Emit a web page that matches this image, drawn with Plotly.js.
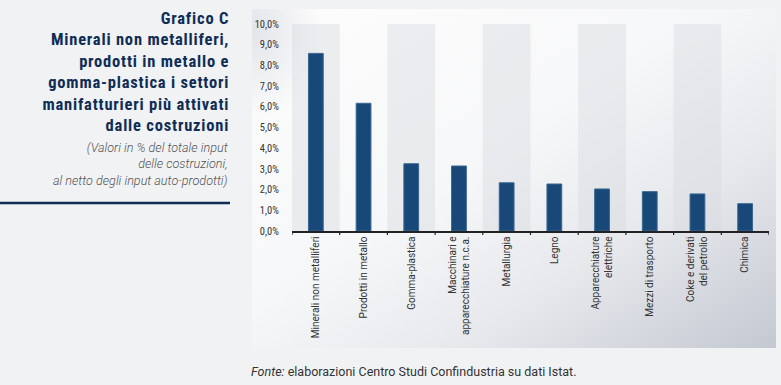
<!DOCTYPE html>
<html>
<head>
<meta charset="utf-8">
<script src="https://cdn.plot.ly/plotly-3.0.1.min.js"></script>
<style>
  html, body { margin:0; padding:0; background:#f1f2f4; }
  #wrap { position:relative; width:781px; height:385px; overflow:hidden; }
  #panel { position:absolute; left:252px; top:9px; width:524px; height:339px;
    background:
      radial-gradient(ellipse 70px 90px at 0px 20px, rgba(215,217,223,0.7), rgba(215,217,223,0) 100%),
      linear-gradient(to bottom right, #fdfdfd 0%, #f6f7f8 45%, #e6e8ec 70%, #c4c8d1 100%); }
  #chart { position:absolute; left:0; top:0; width:781px; height:385px; }
</style>
</head>
<body>
<div id="wrap">
  <div id="panel"></div>
  <div id="chart"></div>
</div>
<script>
const categories = [
  "Minerali non metalliferi",
  "Prodotti in metallo",
  "Gomma-plastica",
  "Macchinari e<br>apparecchiature n.c.a.",
  "Metallurgia",
  "Legno",
  "Apparecchiature<br>elettriche",
  "Mezzi di trasporto",
  "Coke e derivati<br>del petrolio",
  "Chimica"
];
const values = [8.58, 6.17, 3.25, 3.14, 2.33, 2.27, 2.03, 1.90, 1.79, 1.32];
const yTickVals = [0,1,2,3,4,5,6,7,8,9,10];
const yTickText = ["0,0%","1,0%","2,0%","3,0%","4,0%","5,0%","6,0%","7,0%","8,0%","9,0%","10,0%"];
const titleText = "<b>Grafico C<br>Minerali non metalliferi,<br>prodotti in metallo e<br>gomma-plastica i settori<br>manifatturieri più attivati<br>dalle costruzioni</b>";
const subtitleText = "(Valori in % del totale input<br>delle costruzioni,<br>al netto degli input auto-prodotti)";
const sourceText = "<i>Fonte:</i> elaborazioni Centro Studi Confindustria su dati Istat.";

const W = 781, H = 385;
const M = {l:292, r:12, t:24, b:154};
const PW = W - M.l - M.r, PH = H - M.t - M.b;
const px = x => (x - M.l) / PW;
const py = y => (H - M.b - y) / PH;

const condensed = "Roboto Condensed, Liberation Sans Narrow, DejaVu Sans Condensed, sans-serif";

const shapes = [];
categories.forEach((c, i) => {
  if (i % 2 === 0) {
    shapes.push({type:'rect', xref:'x', yref:'y', x0:i-0.5, x1:i+0.5, y0:0, y1:10,
      fillcolor:'rgba(214,216,222,0.42)', line:{width:0}, layer:'below'});
  }
});
shapes.push({type:'line', xref:'paper', yref:'paper', x0:px(0), x1:px(230), y0:py(203), y1:py(203),
  line:{color:'#0f2d55', width:2.5}});

const trace = {
  type:'bar',
  x: categories.map((c,i)=>i),
  y: values,
  width: 0.31,
  marker:{color:'#174878', line:{color:'#3a6693', width:1}},
  hoverinfo:'skip'
};

const layout = {
  width:W, height:H,
  margin:M,
  paper_bgcolor:'rgba(0,0,0,0)',
  plot_bgcolor:'rgba(0,0,0,0)',
  showlegend:false,
  xaxis:{
    type:'linear',
    range:[-0.5, categories.length-0.5],
    tickvals: categories.map((c,i)=>i),
    ticktext: categories,
    tickangle:-90,
    showgrid:false, zeroline:false,
    showline:true, linecolor:'#222', linewidth:1.5,
    ticks:'',
    tickfont:{family:'Roboto, sans-serif', size:10, color:'#333'}
  },
  yaxis:{
    range:[0,10],
    tickvals:yTickVals, ticktext:yTickText,
    showgrid:false, zeroline:false, showline:false,
    ticks:'outside', ticklen:10, tickcolor:'rgba(0,0,0,0)',
    tickfont:{family:condensed, size:10.5, color:'#333'}
  },
  shapes: shapes.concat(
    categories.map((c,i)=>i-0.5).concat([categories.length-0.5]).map(b => ({
      type:'line', xref:'x', yref:'paper', x0:b, x1:b, y0:0, y1:-4/PH,
      line:{color:'#222', width:1.2}
    }))
  ),
  annotations:[
    {xref:'paper', yref:'paper', x:px(231), y:py(7), xanchor:'right', yanchor:'top',
     align:'right', showarrow:false, text:titleText,
     font:{family:condensed, size:16.5, color:'#0f2d55'}},
    {xref:'paper', yref:'paper', x:px(230), y:py(138), xanchor:'right', yanchor:'top',
     align:'right', showarrow:false, text:subtitleText,
     font:{family:'Roboto, sans-serif', size:12.6, color:'#555', style:'italic', weight:300}},
    {xref:'paper', yref:'paper', x:px(249), y:py(371), xanchor:'left', yanchor:'middle',
     align:'left', showarrow:false, text:sourceText,
     font:{family:'Roboto, sans-serif', size:12.5, color:'#333'}}
  ]
};

Plotly.newPlot('chart', [trace], layout, {displayModeBar:false, staticPlot:true}).then(gd => {
  const t = gd.querySelectorAll('.annotation-text')[0];
  if (t) t.style.letterSpacing = '0.8px';
});
</script>
</body>
</html>
